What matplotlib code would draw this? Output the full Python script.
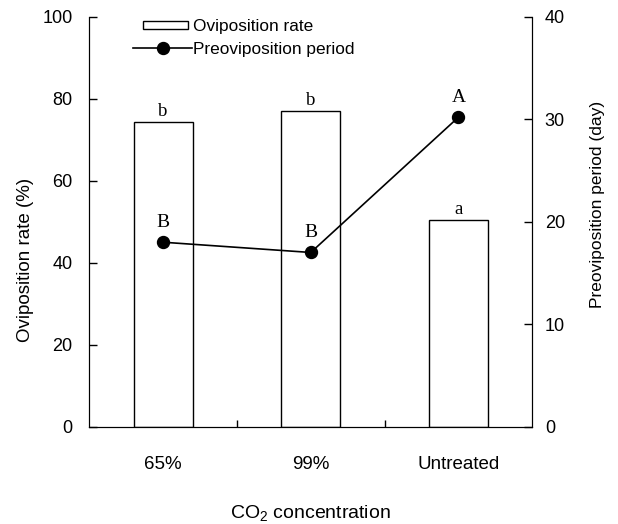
import matplotlib
matplotlib.use("Agg")
import matplotlib.pyplot as plt
from matplotlib.patches import Patch, Rectangle
from matplotlib.lines import Line2D
from matplotlib.legend_handler import HandlerPatch
from matplotlib.ticker import FixedLocator

plt.rcParams['font.family'] = ['Liberation Sans', 'DejaVu Sans']
plt.rcParams['mathtext.fontset'] = 'custom'
plt.rcParams['mathtext.rm'] = 'Liberation Sans'
plt.rcParams['mathtext.it'] = 'Liberation Sans:italic'
plt.rcParams['mathtext.bf'] = 'Liberation Sans:bold'

categories = ['65%', '99%', 'Untreated']
oviposition_rate = [74.3, 77.1, 50.5]
preoviposition_period = [18.0, 17.0, 30.2]
rate_letters = ['b', 'b', 'a']
period_letters = ['B', 'B', 'A']

fig = plt.figure(figsize=(6.18, 5.24), dpi=100)
ax = fig.add_axes([0.1445, 0.1857, 0.7168, 0.7823])
x = list(range(len(categories)))

ax.bar(x, oviposition_rate, width=0.40, color='white', edgecolor='black', linewidth=1.0, zorder=2)
ax.set_xlim(-0.5, 2.5)
ax.set_ylim(0, 100)
ax.set_yticks([0, 20, 40, 60, 80, 100])
ax.set_xticks(x)
ax.set_xticklabels(categories)
ax.xaxis.set_minor_locator(FixedLocator([0.5, 1.5]))
ax.tick_params(axis='x', which='major', length=0, pad=21, labelsize=13.5)
ax.tick_params(axis='x', which='minor', direction='in', length=5, width=1)
ax.tick_params(axis='y', direction='in', length=6, width=1, pad=12, labelsize=13)
ax.spines['top'].set_visible(False)
ax.set_ylabel('Oviposition rate (%)', fontsize=13.5)
ax.yaxis.set_label_coords(-0.125, 0.407)
ax.set_xlabel(r'CO$_2$ concentration', fontsize=14)
ax.xaxis.set_label_coords(0.5, -0.185)

for xi, v, t in zip(x, oviposition_rate, rate_letters):
    ax.annotate(t, (xi, v), xytext=(0, 1.5), textcoords='offset points',
                ha='center', va='bottom', family='Liberation Serif', fontsize=13.5)

ax2 = ax.twinx()
ax2.plot(x, preoviposition_period, color='black', linewidth=1.2, marker='o',
         markersize=8.6, zorder=3)
ax2.set_ylim(0, 40)
ax2.set_yticks([0, 10, 20, 30, 40])
ax2.tick_params(axis='y', direction='in', length=6, width=1, pad=9, labelsize=13)
ax2.spines['top'].set_visible(False)
ax2.set_ylabel('Preoviposition period (day)', fontsize=12.5)
ax2.yaxis.set_label_coords(1.13, 0.541)

for xi, v, t in zip(x, preoviposition_period, period_letters):
    ax2.annotate(t, (xi, v), xytext=(0, 8), textcoords='offset points',
                 ha='center', va='bottom', family='Liberation Serif', fontsize=14)


def narrow_rect(legend, orig_handle, xdescent, ydescent, width, height, fontsize):
    w = width * 0.78
    h = height * 0.68
    return Rectangle((-xdescent + width - w - 0.06 * width, -ydescent + (height - h) / 2),
                     w, h)


handles = [Patch(facecolor='white', edgecolor='black', linewidth=1.0),
           Line2D([], [], color='black', linewidth=1.2, marker='o', markersize=8.6)]
ax2.legend(handles, ['Oviposition rate', 'Preoviposition period'],
           loc='upper left', bbox_to_anchor=(0.084, 1.012), frameon=False,
           fontsize=12.4, handlelength=3.4, handleheight=0.7, handletextpad=0.05,
           labelspacing=0.5, borderaxespad=0,
           handler_map={Patch: HandlerPatch(patch_func=narrow_rect)})

fig.savefig('out.png', dpi=100)
